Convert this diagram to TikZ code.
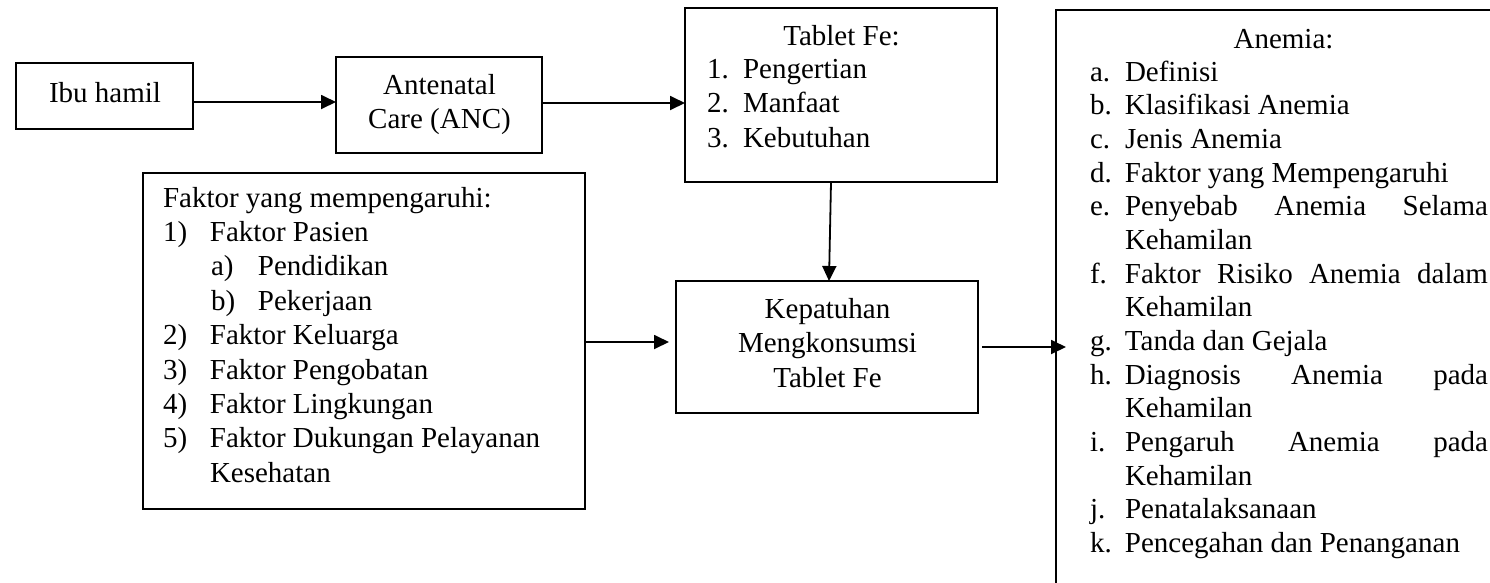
\documentclass[tikz,border=0pt]{standalone}
\usepackage{fontspec}
\setmainfont{Liberation Serif}
\usetikzlibrary{arrows.meta}
\newcommand\cln[1]{\hbox to 0pt{\hss#1\hss}}
\newcommand\itl[3]{\hbox{\hbox to #1{#2\hfil}#3}}
\newcommand\jus[1]{\hbox to 363pt{#1}}
\begin{document}
\begin{tikzpicture}[x=1pt,y=-1pt,
  box/.style={draw, line width=2pt, rectangle, inner sep=0pt, outer sep=0pt, anchor=north west},
  txt/.style={anchor=base west, inner sep=0pt, outer sep=0pt, font=\fontsize{29}{34}\selectfont},
  arr/.style={line width=1.8pt, -{Triangle[length=15pt,width=14pt]}}]
\useasboundingbox (0,0) rectangle (1490,582);
\clip (0,0) rectangle (1490,582);
\fill[white] (0,0) rectangle (1490,582);

% boxes
\node[box, minimum width=177pt, minimum height=66pt] (ibu) at (16,63) {};
\node[box, minimum width=206pt, minimum height=96pt] (anc) at (336,57) {};
\node[box, minimum width=312pt, minimum height=174pt] (tab) at (685,8) {};
\node[box, minimum width=442pt, minimum height=336pt] (fak) at (143,173) {};
\node[box, minimum width=302pt, minimum height=132pt] (kep) at (676,281) {};
\node[box, minimum width=520pt, minimum height=640pt] (ane) at (1056,10) {};

% texts
\node[txt] (tibu) at (104.5,102) {\vtop{\cln{Ibu hamil}}};
\node[txt] (tanc) at (439,94) {\vtop{\baselineskip=34.5pt\cln{Antenatal}\cln{Care (ANC)}}};
\node[txt] (ttab) at (841,45) {\vtop{\cln{Tablet Fe:}}};
\node[txt] (ltab) at (707,78) {\vtop{\baselineskip=34.5pt
  \itl{36pt}{1.}{Pengertian}
  \itl{36pt}{2.}{Manfaat}
  \itl{36pt}{3.}{Kebutuhan}}};
\node[txt] (tkep) at (827,318) {\vtop{\baselineskip=34.5pt\cln{Kepatuhan}\cln{Mengkonsumsi}\cln{Tablet Fe}}};
\node[txt] (tfak) at (163,207) {\vtop{\baselineskip=34.4pt
  \hbox{Faktor yang mempengaruhi:}
  \itl{47pt}{1)}{Faktor Pasien}
  \hbox{\hskip48pt\itl{47pt}{a)}{Pendidikan}}
  \hbox{\hskip48pt\itl{47pt}{b)}{Pekerjaan}}
  \itl{47pt}{2)}{Faktor Keluarga}
  \itl{47pt}{3)}{Faktor Pengobatan}
  \itl{47pt}{4)}{Faktor Lingkungan}
  \itl{47pt}{5)}{Faktor Dukungan Pelayanan}
  \itl{47pt}{}{Kesehatan}}};
\node[txt] (tane) at (1283,48) {\vtop{\cln{Anemia:}}};
\node[txt] (lane) at (1090,81) {\vtop{\baselineskip=33.67pt
  \itl{35pt}{a.}{Definisi}
  \itl{35pt}{b.}{Klasifikasi Anemia}
  \itl{35pt}{c.}{Jenis Anemia}
  \itl{35pt}{d.}{Faktor yang Mempengaruhi}
  \itl{35pt}{e.}{\jus{Penyebab\hfill Anemia\hfill Selama}}
  \itl{35pt}{}{Kehamilan}
  \itl{35pt}{f.}{\jus{Faktor\hfill Risiko\hfill Anemia\hfill dalam}}
  \itl{35pt}{}{Kehamilan}
  \itl{35pt}{g.}{Tanda dan Gejala}
  \itl{35pt}{h.}{\jus{Diagnosis\hfill Anemia\hfill pada}}
  \itl{35pt}{}{Kehamilan}
  \itl{35pt}{i.}{\jus{Pengaruh\hfill Anemia\hfill pada}}
  \itl{35pt}{}{Kehamilan}
  \itl{35pt}{j.}{Penatalaksanaan}
  \itl{35pt}{k.}{Pencegahan dan Penanganan}}};

% connectors
\coordinate (a1) at ([yshift=-6pt]ibu.east);
\draw[arr] (a1) -- (a1 -| anc.west);
\coordinate (a2) at ([yshift=2pt]anc.east);
\draw[arr] (a2) -- (a2 -| tab.west);
\draw[arr] ([xshift=-10pt]tab.south) -- ([xshift=2pt]kep.north);
\coordinate (a4) at ([yshift=5pt]kep.west);
\draw[arr, shorten >=7pt] (a4 -| fak.east) -- (a4);
\draw[arr, shorten <=4pt, shorten >=-10pt] (kep.east) -- (kep.east -| ane.west);
\end{tikzpicture}
\end{document}
